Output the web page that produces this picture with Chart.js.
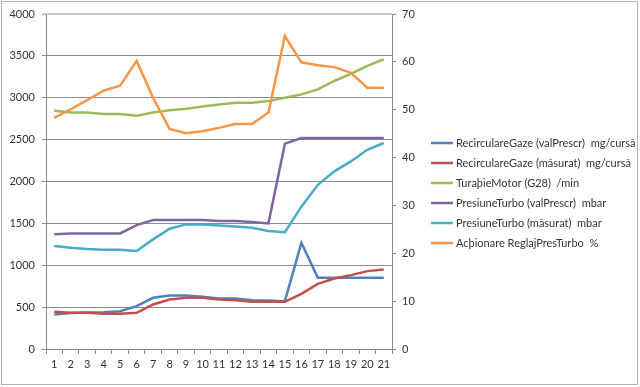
<!DOCTYPE html>
<html>
<head>
<meta charset="utf-8">
<script src="https://cdn.jsdelivr.net/npm/chart.js@4"></script>
<style>
  html, body { margin: 0; padding: 0; background: #fff; }
</style>
</head>
<body>
<canvas id="chart" width="640" height="387"></canvas>
<script>
const labels = ["1","2","3","4","5","6","7","8","9","10","11","12","13","14","15","16","17","18","19","20","21"];

const recircPrescr = [412, 430, 435, 440, 452, 512, 611, 639, 639, 623, 603, 603, 583, 579, 571, 1268, 850, 850, 850, 850, 850];
const recircMasurat = [444, 432, 432, 420, 420, 432, 532, 591, 611, 611, 591, 583, 563, 563, 563, 659, 778, 842, 882, 930, 950];
const turatie = [2845, 2825, 2825, 2805, 2805, 2785, 2825, 2850, 2870, 2895, 2920, 2940, 2940, 2960, 3000, 3040, 3100, 3200, 3285, 3380, 3460];
const presPrescr = [1369, 1380, 1380, 1380, 1380, 1480, 1540, 1540, 1540, 1540, 1528, 1528, 1516, 1500, 2452, 2520, 2520, 2520, 2520, 2520, 2520];
const presMasurat = [1230, 1210, 1194, 1185, 1185, 1170, 1309, 1436, 1488, 1488, 1476, 1464, 1448, 1408, 1395, 1700, 1960, 2121, 2240, 2379, 2460];
const actionare = [48.3, 50.1, 52.0, 54.0, 55.0, 60.2, 52.5, 46.0, 45.1, 45.5, 46.2, 47.0, 47.0, 49.4, 65.4, 59.9, 59.3, 58.9, 57.7, 54.6, 54.6];

const leftTicks = { min: 0, max: 4000, step: 500 };
const rightTicks = { min: 0, max: 70, step: 10 };

const fontFamily = "Lato, 'Open Sans', sans-serif";
const textColor = "#333";

function series(label, data, color, axis, order) {
    return {
        label: label, data: data, yAxisID: axis,
        borderColor: color, backgroundColor: color,
        borderWidth: 2.5, pointRadius: 0, tension: 0, fill: false, order: order
    };
}

// outer frame + white background
const framePlugin = {
    id: "frame",
    beforeDraw(chart) {
        const c = chart.ctx;
        c.save();
        c.fillStyle = "#fff";
        c.fillRect(0, 0, chart.width, chart.height);
        c.strokeStyle = "#b3b3b3";
        c.lineWidth = 1;
        c.strokeRect(1.5, 1.5, chart.width - 4, chart.height - 4);
        c.restore();
    }
};

// legend drawn like the Excel one: short line + label, one per row
const sideLegend = {
    id: "sideLegend",
    afterDraw(chart) {
        const c = chart.ctx;
        c.save();
        c.font = "11px " + fontFamily;
        c.textBaseline = "middle";
        // widen the text slightly so the longest label spans like the original (~169px)
        const longest = chart.data.datasets[0].label;
        const w = c.measureText(longest).width;
        const extra = Math.max(0, (169 - w) / longest.length);
        c.letterSpacing = extra.toFixed(2) + "px";
        chart.data.datasets.forEach((ds, i) => {
            const y = 143 + i * 20;
            c.strokeStyle = ds.borderColor;
            c.lineWidth = 2.5;
            c.beginPath();
            c.moveTo(431, y);
            c.lineTo(453, y);
            c.stroke();
            c.fillStyle = textColor;
            c.fillText(ds.label, 456, y);
        });
        c.restore();
    }
};

const ctx = document.getElementById("chart").getContext("2d");
new Chart(ctx, {
    type: "line",
    data: {
        labels: labels,
        datasets: [
            series("RecirculareGaze (valPrescr)  mg/cursă", recircPrescr, "#4F81BD", "y", 6),
            series("RecirculareGaze (măsurat)  mg/cursă", recircMasurat, "#C0504D", "y", 5),
            series("TuraþieMotor (G28)  /min", turatie, "#9BBB59", "y", 4),
            series("PresiuneTurbo (valPrescr)  mbar", presPrescr, "#8064A2", "y", 3),
            series("PresiuneTurbo (măsurat)  mbar", presMasurat, "#4BACC6", "y", 2),
            series("Acþionare ReglajPresTurbo  %", actionare, "#F79646", "y1", 1)
        ]
    },
    options: {
        responsive: false,
        animation: false,
        devicePixelRatio: 1,
        layout: { padding: { top: 14, right: 218, bottom: 0, left: 0 } },
        plugins: {
            legend: { display: false },
            tooltip: { enabled: false }
        },
        scales: {
            x: {
                type: "category",
                offset: true,
                grid: { offset: true, drawOnChartArea: false, drawTicks: true, tickLength: 5, color: "#8c8c8c" },
                border: { color: "#8c8c8c" },
                ticks: { autoSkip: false, maxRotation: 0, padding: 4, color: textColor, font: { family: fontFamily, size: 11 } },
                afterFit(s) { s.height = 38; }
            },
            y: {
                position: "left",
                min: leftTicks.min,
                max: leftTicks.max,
                ticks: {
                    stepSize: leftTicks.step, padding: 7, color: textColor,
                    font: { family: fontFamily, size: 11 },
                    callback: v => String(v)
                },
                grid: {
                    color: c => (c.tick && c.tick.value === leftTicks.max ? "#c8c8c8" : "#8c8c8c"),
                    lineWidth: c => (c.tick && c.tick.value === leftTicks.max ? 2 : 1),
                    tickLength: 4
                },
                border: { color: "#8c8c8c" },
                afterFit(s) { s.width = 46; }
            },
            y1: {
                position: "right",
                min: rightTicks.min,
                max: rightTicks.max,
                ticks: { stepSize: rightTicks.step, padding: 6, color: textColor, font: { family: fontFamily, size: 11 } },
                grid: { drawOnChartArea: false, tickLength: 4, color: "#8c8c8c" },
                border: { color: "#8c8c8c" },
                afterFit(s) { s.width = 30; }
            }
        }
    },
    plugins: [framePlugin, sideLegend]
});
</script>
</body>
</html>
